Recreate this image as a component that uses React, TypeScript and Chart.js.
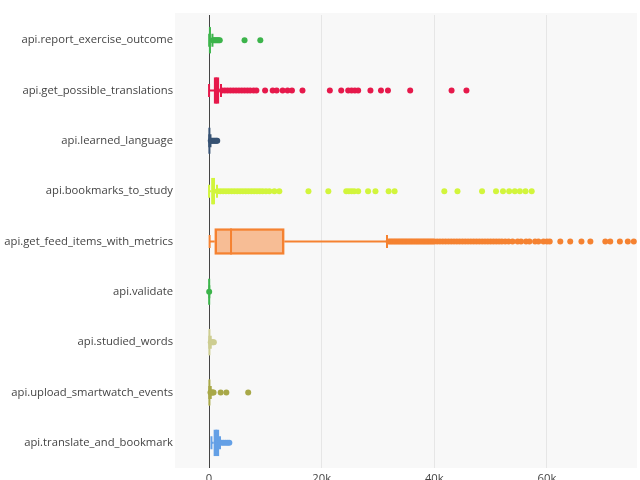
import React, { useEffect, useRef } from "react";
import { Chart, registerables } from "chart.js";

Chart.register(...registerables);

const categories = [
  "api.report_exercise_outcome",
  "api.get_possible_translations",
  "api.learned_language",
  "api.bookmarks_to_study",
  "api.get_feed_items_with_metrics",
  "api.validate",
  "api.studied_words",
  "api.upload_smartwatch_events",
  "api.translate_and_bookmark",
];

const colors = [
  "rgb(60,180,75)",
  "rgb(230,25,75)",
  "rgb(55,82,115)",
  "rgb(210,245,60)",
  "rgb(245,130,49)",
  "rgb(60,180,75)",
  "rgb(205,205,145)",
  "rgb(168,168,72)",
  "rgb(100,160,230)",
];

const fills = [
  "rgba(60,180,75,0.5)",
  "rgba(230,25,75,0.5)",
  "rgba(55,82,115,0.5)",
  "rgba(210,245,60,0.5)",
  "rgba(245,130,49,0.5)",
  "rgba(60,180,75,0.5)",
  "rgba(205,205,145,0.5)",
  "rgba(168,168,72,0.5)",
  "rgba(100,160,230,0.5)",
];

const lowerWhisker = [20, 0, 10, 0, 100, 5, 10, 10, 420];
const q1 = [60, 880, 30, 420, 1000, 10, 30, 30, 830];
const median = [150, 1300, 60, 700, 3900, 20, 60, 60, 1300];
const q3 = [250, 1770, 120, 1000, 13360, 40, 120, 120, 1770];
const upperWhisker = [600, 2120, 250, 1410, 31600, 60, 300, 300, 1940];

const reportOutliers = [700, 900, 1100, 1300, 1500, 1700, 1900, 6300, 9100];
const translationsOutliers = [
  2300, 2800, 3300, 3800, 4300, 4800, 5300, 5800, 6300, 6800, 7300, 7900, 8400,
  9950, 11300, 12000, 13060, 13940, 14720, 16590, 21450, 23470, 24710, 25310,
  25890, 26480, 28660, 30530, 31770, 35720, 43070, 45710,
];
const learnedOutliers = [300, 500, 700, 900, 1100, 1300, 1450];
const bookmarksOutliers = [
  1500, 2000, 2500, 3000, 3500, 4000, 4500, 5000, 5500, 6000, 6500, 7000, 7500,
  8000, 8500, 9000, 9500, 10100, 10710, 11600, 12480, 17650, 21180, 24360,
  24830, 25310, 25770, 26480, 28240, 29550, 31890, 32950, 41780, 44120, 48480,
  50960, 52200, 53300, 54300, 55200, 56200, 57300,
];
const feedOutliers = [
  31900, 32200, 32500, 32800, 33100, 33400, 33700, 34000, 34300, 34600, 34900,
  35200, 35500, 35800, 36100, 36400, 36700, 37000, 37300, 37600, 37900, 38200,
  38500, 38800, 39100, 39400, 39700, 40000, 40500, 41000, 41500, 42000, 42500,
  43000, 43500, 44000, 44500, 45000, 45500, 46000, 46500, 47000, 47500, 48000,
  48500, 49000, 49500, 50000, 50500, 51000, 51500, 52000, 52600, 53200, 53900,
  54800, 55400, 56300, 56900, 57900, 58500, 59400, 60000, 60500, 62380, 64140,
  66130, 67720, 70370, 71250, 72960, 74370, 75430,
];
const validateOutliers = [20];
const studiedOutliers = [300, 500, 700, 850];
const smartwatchOutliers = [250, 450, 650, 800, 2060, 3070, 6950];
const translateOutliers = [2250, 2600, 2950, 3300, 3600];

const outliers = [
  reportOutliers,
  translationsOutliers,
  learnedOutliers,
  bookmarksOutliers,
  feedOutliers,
  validateOutliers,
  studiedOutliers,
  smartwatchOutliers,
  translateOutliers,
];

const xTicks = [0, 20000, 40000, 60000];

const BOX_H = 26;
const FONT = { family: '"Open Sans", sans-serif', size: 11.25 };

const bgPlugin = {
  id: "plotBg",
  beforeDraw(chart: any) {
    const { ctx, chartArea } = chart;
    ctx.save();
    ctx.fillStyle = "#f8f8f8";
    ctx.fillRect(chartArea.left, chartArea.top - 2, chartArea.right - chartArea.left, chartArea.bottom - chartArea.top + 2);
    ctx.restore();
  },
};

const whiskerPlugin = {
  id: "whiskers",
  afterDatasetDraw(chart: any, args: any) {
    if (args.index !== 0) return;
    const { ctx, chartArea } = chart;
    const xs = chart.scales.x;
    const ys = chart.scales.y;
    ctx.save();
    ctx.beginPath();
    ctx.rect(chartArea.left, chartArea.top, chartArea.right - chartArea.left, chartArea.bottom - chartArea.top);
    ctx.clip();
    ctx.lineWidth = 2;
    categories.forEach((_, i) => {
      const y = ys.getPixelForValue(i);
      ctx.strokeStyle = colors[i];
      const lo = xs.getPixelForValue(lowerWhisker[i]);
      const a = xs.getPixelForValue(q1[i]);
      const b = xs.getPixelForValue(q3[i]);
      const hi = xs.getPixelForValue(upperWhisker[i]);
      const m = xs.getPixelForValue(median[i]);
      ctx.beginPath();
      ctx.moveTo(lo, y);
      ctx.lineTo(a, y);
      ctx.moveTo(b, y);
      ctx.lineTo(hi, y);
      ctx.moveTo(lo, y - BOX_H / 4);
      ctx.lineTo(lo, y + BOX_H / 4);
      ctx.moveTo(hi, y - BOX_H / 4);
      ctx.lineTo(hi, y + BOX_H / 4);
      ctx.moveTo(m, y - BOX_H / 2);
      ctx.lineTo(m, y + BOX_H / 2);
      ctx.stroke();
    });
    ctx.restore();
  },
};

export default function App() {
  const ref = useRef<HTMLCanvasElement | null>(null);
  useEffect(() => {
    if (!ref.current) return;
    const datasets: any[] = [
      {
        type: "bar",
        data: categories.map((_, i) => [q1[i], q3[i]]),
        backgroundColor: fills,
        borderColor: colors,
        borderWidth: 2,
        borderSkipped: false,
        barThickness: BOX_H,
        grouped: false,
      },
    ];
    outliers.forEach((arr, i) => {
      datasets.push({
        type: "scatter",
        data: arr.map((v) => ({ x: v, y: categories[i] })),
        backgroundColor: colors[i],
        borderWidth: 0,
        pointRadius: 3,
        pointHoverRadius: 3,
      });
    });
    const chart = new Chart(ref.current, {
      type: "bar",
      data: { labels: categories, datasets },
      plugins: [bgPlugin, whiskerPlugin],
      options: {
        indexAxis: "y",
        responsive: false,
        animation: false,
        layout: { padding: { top: 15, right: 0, bottom: 0, left: 0 } },
        font: FONT,
        plugins: { legend: { display: false }, tooltip: { enabled: false } },
        scales: {
          y: {
            type: "category",
            labels: categories,
            grid: { display: false, drawTicks: false },
            border: { display: false },
            ticks: { padding: 2, color: "#444", font: FONT },
            afterFit(scale: any) {
              scale.width = 175;
            },
          },
          x: {
            type: "linear",
            min: -6050,
            max: 76000,
            grid: {
              drawTicks: false,
              color: (c: any) => (c.tick && c.tick.value === 0 ? "#444" : "#e6e6e6"),
              lineWidth: 1,
            },
            border: { display: false },
            afterBuildTicks(scale: any) {
              scale.ticks = xTicks.map((v) => ({ value: v }));
            },
            ticks: {
              padding: 4,
              color: "#444",
              font: FONT,
              callback: (v: any) => (v === 0 ? "0" : v / 1000 + "k"),
            },
            afterFit(scale: any) {
              scale.height = 12;
            },
          },
        },
      } as any,
    });
    return () => chart.destroy();
  }, []);
  return (
    <div style={{ position: "absolute", left: 0, top: 0, width: 640, height: 480 }}>
      <canvas ref={ref} width={640} height={480} />
    </div>
  );
}
